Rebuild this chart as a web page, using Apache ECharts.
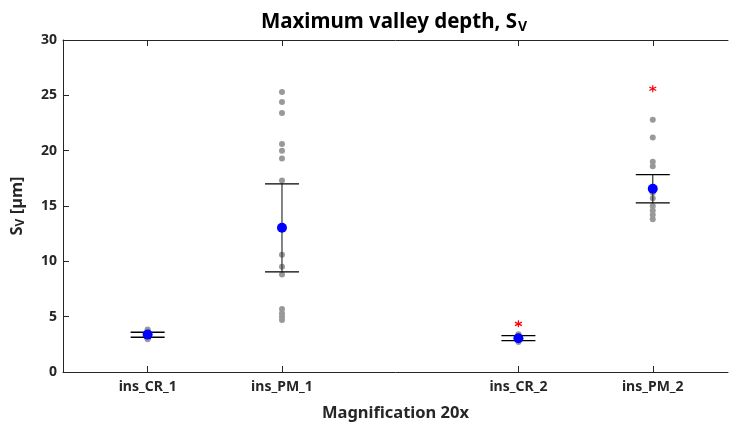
<!DOCTYPE html>
<html>

<head>
    <meta charset="utf-8">
    <title>Maximum valley depth</title>
    <script src="https://cdn.jsdelivr.net/npm/echarts@6.0.0/dist/echarts.min.js"></script>
</head>

<body style="margin:0">
    <div id="main" style="width: 729px;height:427px;"></div>
    <script type="text/javascript">
        // groups and where they sit on the x axis
        var groups = ['ins_CR_1', 'ins_PM_1', 'ins_CR_2', 'ins_PM_2'];
        var groupPos = [0.63, 1.63, 3.39, 4.39];

        // individual measurements (µm)
        var crOne = [3.85, 3.7, 3.55, 3.4, 3.3, 3.2, 3.05, 2.95];
        var pmOne = [25.3, 24.4, 23.4, 20.6, 20.0, 19.3, 17.3, 10.6, 9.5, 8.8, 5.7, 5.3, 5.0, 4.7];
        var crTwo = [3.4, 3.25, 3.1, 3.0, 2.9, 2.8, 2.7];
        var pmTwo = [22.8, 21.2, 19.0, 18.6, 16.2, 15.7, 15.0, 14.6, 14.2, 13.8];
        var samples = [crOne, pmOne, crTwo, pmTwo];

        // outliers (red stars)
        var outliers = [[], [], [4.35], [25.6]];

        // mean and error bar limits
        var means = [3.38, 13.04, 3.05, 16.56];
        var errLow = [3.14, 9.05, 2.84, 15.28];
        var errHigh = [3.59, 17.0, 3.29, 17.83];

        var yTicks = [0, 5, 10, 15, 20, 25, 30];

        var pointData = [];
        var outlierData = [];
        var meanData = [];
        var errData = [];
        groups.forEach(function (g, i) {
            samples[i].forEach(function (v) { pointData.push([groupPos[i], v]); });
            outliers[i].forEach(function (v) { outlierData.push([groupPos[i], v]); });
            meanData.push([groupPos[i], means[i]]);
            errData.push([groupPos[i], errLow[i], errHigh[i]]);
        });

        var chartDom = document.getElementById('main');
        var myChart = echarts.init(chartDom);
        var option;

        var font = 'Noto Sans';
        var axisColor = '#262626';

        option = {
            animation: false,
            title: {
                text: '{a|Maximum valley depth, S}{s|V}',
                left: 389,
                top: 5,
                textAlign: 'center',
                textStyle: {
                    rich: {
                        a: { fontFamily: font, fontSize: 20.5, fontWeight: 'bold', color: '#000' },
                        s: { fontFamily: font, fontSize: 14, fontWeight: 'bold', color: '#000', padding: [10, 0, 0, 1] }
                    }
                }
            },
            grid: {
                left: 63,
                right: 1,
                top: 40,
                bottom: 54
            },
            xAxis: [{
                type: 'value',
                min: 0,
                max: 4.95,
                position: 'bottom',
                name: 'Magnification 20x',
                nameLocation: 'middle',
                nameGap: 33,
                nameTextStyle: { fontFamily: font, fontSize: 16.5, fontWeight: 'bold', color: '#262626' },
                axisLine: { show: true, lineStyle: { color: axisColor, width: 1 } },
                axisTick: { show: true, inside: true, length: 6, customValues: groupPos, lineStyle: { color: axisColor } },
                axisLabel: {
                    customValues: groupPos,
                    margin: 8,
                    fontFamily: font,
                    fontSize: 14,
                    fontWeight: 'bold',
                    color: '#262626',
                    formatter: function (v) {
                        var idx = groupPos.indexOf(v);
                        return idx >= 0 ? groups[idx] : '';
                    }
                },
                splitLine: { show: false }
            }, {
                type: 'value',
                min: 0,
                max: 4.95,
                position: 'top',
                axisLine: { show: true, lineStyle: { color: axisColor, width: 1 } },
                axisTick: { show: true, inside: true, length: 6, customValues: groupPos, lineStyle: { color: axisColor } },
                axisLabel: { show: false },
                splitLine: { show: false }
            }],
            yAxis: {
                type: 'value',
                min: 0,
                max: 30,
                interval: 5,
                name: '{a|S}{s|V}{a| [µm]}',
                nameLocation: 'middle',
                nameGap: 36,
                nameTextStyle: {
                    rich: {
                        a: { fontFamily: font, fontSize: 16.5, fontWeight: 'bold', color: '#262626' },
                        s: { fontFamily: font, fontSize: 12, fontWeight: 'bold', color: '#262626', padding: [8, 0, 0, 0] }
                    }
                },
                axisLine: { show: true, lineStyle: { color: axisColor, width: 1 } },
                axisTick: { show: true, inside: true, length: 6, lineStyle: { color: axisColor } },
                axisLabel: {
                    margin: 6,
                    fontFamily: font,
                    fontSize: 14,
                    fontWeight: 'bold',
                    color: '#262626',
                    customValues: yTicks
                },
                splitLine: { show: false }
            },
            series: [{
                type: 'scatter',
                data: pointData,
                symbolSize: 6,
                itemStyle: { color: '#999999', opacity: 1 },
                z: 2
            }, {
                type: 'custom',
                data: errData,
                renderItem: function (params, api) {
                    var x = api.value(0);
                    var lo = api.coord([x, api.value(1)]);
                    var hi = api.coord([x, api.value(2)]);
                    var hw = 17;
                    var st = { stroke: '#000', lineWidth: 1.3 };
                    return {
                        type: 'group',
                        children: [
                            { type: 'line', shape: { x1: lo[0], y1: lo[1], x2: hi[0], y2: hi[1] }, style: { stroke: '#333', lineWidth: 1.2 } },
                            { type: 'line', shape: { x1: lo[0] - hw, y1: lo[1], x2: lo[0] + hw, y2: lo[1] }, style: st },
                            { type: 'line', shape: { x1: hi[0] - hw, y1: hi[1], x2: hi[0] + hw, y2: hi[1] }, style: st }
                        ]
                    };
                },
                z: 3
            }, {
                type: 'scatter',
                data: meanData,
                symbolSize: 10,
                itemStyle: { color: '#0000ff', opacity: 1 },
                z: 4
            }, {
                type: 'scatter',
                data: outlierData,
                symbol: 'path://M0,-10L0,10M-8.66,-5L8.66,5M-8.66,5L8.66,-5',
                symbolSize: 7,
                itemStyle: { color: 'none', borderColor: '#ff0000', borderWidth: 1.2, opacity: 1 },
                z: 4
            }]
        };

        option && myChart.setOption(option);
    </script>
</body>

</html>
